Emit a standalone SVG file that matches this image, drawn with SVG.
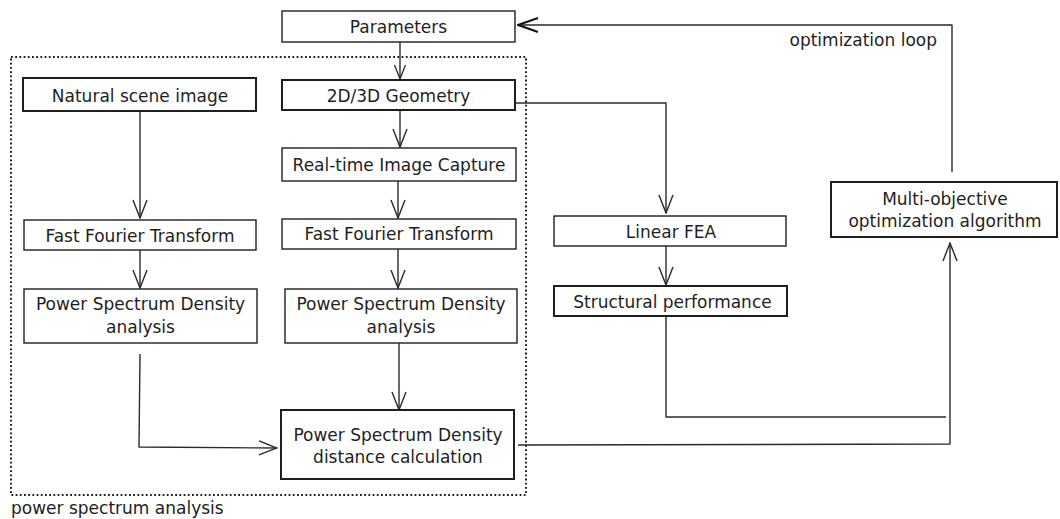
<svg xmlns="http://www.w3.org/2000/svg" width="1060" height="519" viewBox="0 0 1060 519">
<defs>
<style>
.box{fill:#fff;stroke:#1e1e1e;stroke-width:1.4}
.bold{stroke-width:2}
.t{font-family:"DejaVu Sans","Verdana",sans-serif;font-size:17px;fill:#1e1e1e}
.c{text-anchor:middle}
.con{fill:none;stroke:#2a2a2a;stroke-width:1.4;stroke-linejoin:round}
.dot{fill:none;stroke:#1e1e1e;stroke-width:2;stroke-dasharray:1.8 2.4}
</style>
<marker id="ah" markerUnits="userSpaceOnUse" viewBox="0 0 20 16" refX="19" refY="8" markerWidth="20" markerHeight="16" orient="auto">
<path d="M1,1 L19,8 L1,15" fill="none" stroke="#2a2a2a" stroke-width="1.4"/>
</marker>
<marker id="ahs" markerUnits="userSpaceOnUse" viewBox="0 0 16 14" refX="15" refY="7" markerWidth="16" markerHeight="14" orient="auto">
<path d="M1,1.5 L15,7 L1,12.5" fill="none" stroke="#2a2a2a" stroke-width="1.3"/>
</marker>
<marker id="ahb" markerUnits="userSpaceOnUse" viewBox="0 0 22 16" refX="21" refY="8" markerWidth="22" markerHeight="16" orient="auto">
<path d="M1,1 L21,8 L1,15" fill="none" stroke="#111" stroke-width="2"/>
</marker>
</defs>

<g id="group-power-spectrum">
<rect class="dot" x="11" y="57" width="515" height="438"/>
<text class="t" x="11" y="514">power spectrum analysis</text>
</g>

<g id="connectors">
<path class="con" d="M400,42 L400,79" marker-end="url(#ahs)"/>
<path class="con" d="M400,110 L400,147" marker-end="url(#ah)"/>
<path class="con" d="M398,181 L398,218" marker-end="url(#ah)"/>
<path class="con" d="M398,249 L398,288" marker-end="url(#ah)"/>
<path class="con" d="M399,343 L399,410" marker-end="url(#ah)"/>
<path class="con" d="M140,112 L140,218" marker-end="url(#ah)"/>
<path class="con" d="M140,250 L140,288" marker-end="url(#ah)"/>
<path class="con" d="M140,354 L139,447 L277,448" marker-end="url(#ah)"/>
<path class="con" d="M515,103 L666,103 L666,213" marker-end="url(#ah)"/>
<path class="con" d="M666,246 L666,285" marker-end="url(#ah)"/>
<path class="con" d="M666,316 L666,417 L946,417"/>
<path class="con" d="M518,445 L950,444 L950,243" marker-end="url(#ah)"/>
<path class="con" d="M952,172 L952,25 L518,25" stroke-width="2" stroke="#111" marker-end="url(#ahb)"/>
<text class="t" x="937" y="46" text-anchor="end">optimization loop</text>
</g>

<g id="node-parameters">
<rect class="box" x="282" y="11" width="233" height="31"/>
<text class="t c" x="398.5" y="33">Parameters</text>
</g>

<g id="node-geometry">
<rect class="box bold" x="282" y="80" width="233" height="30"/>
<text class="t c" x="398.5" y="101.5">2D/3D Geometry</text>
</g>

<g id="node-natural">
<rect class="box bold" x="23" y="78" width="233" height="33"/>
<text class="t c" x="140" y="101.5">Natural scene image</text>
</g>

<g id="node-capture">
<rect class="box" x="282" y="148" width="234" height="33"/>
<text class="t c" x="399" y="171">Real-time Image Capture</text>
</g>

<g id="node-fft-left">
<rect class="box" x="24" y="220" width="232" height="30"/>
<text class="t c" x="140" y="241.5">Fast Fourier Transform</text>
</g>

<g id="node-fft-center">
<rect class="box" x="282" y="219" width="234" height="30"/>
<text class="t c" x="399" y="240">Fast Fourier Transform</text>
</g>

<g id="node-psd-left">
<rect class="box" x="24" y="289" width="233" height="54"/>
<text class="t c" x="140.5" y="310">Power Spectrum Density</text>
<text class="t c" x="140.5" y="332.5">analysis</text>
</g>

<g id="node-psd-center">
<rect class="box" x="285" y="289" width="232" height="54"/>
<text class="t c" x="401" y="310">Power Spectrum Density</text>
<text class="t c" x="401" y="332.5">analysis</text>
</g>

<g id="node-distance">
<rect class="box bold" x="281" y="410" width="233" height="69"/>
<text class="t c" x="398" y="441">Power Spectrum Density</text>
<text class="t c" x="398" y="463">distance calculation</text>
</g>

<g id="node-fea">
<rect class="box" x="554" y="216" width="232" height="30"/>
<text class="t c" x="671" y="237.5">Linear FEA</text>
</g>

<g id="node-structural">
<rect class="box bold" x="554" y="286" width="233" height="30"/>
<text class="t c" x="672.5" y="307.5">Structural performance</text>
</g>

<g id="node-moo">
<rect class="box bold" x="831" y="182" width="226" height="55"/>
<text class="t c" x="945" y="204.5">Multi-objective</text>
<text class="t c" x="945" y="226.5">optimization algorithm</text>
</g>
</svg>
